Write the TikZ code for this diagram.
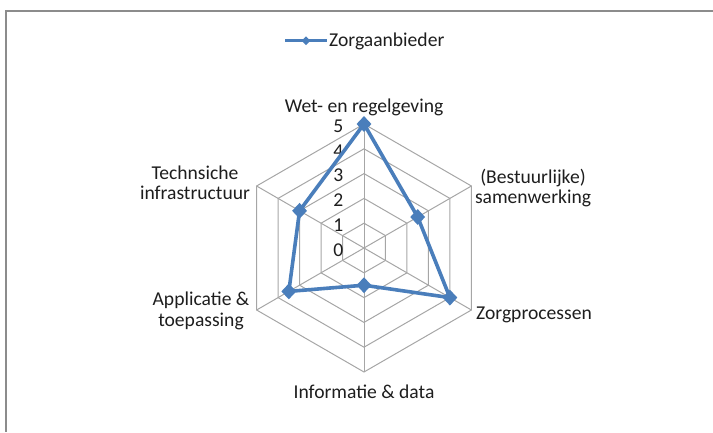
\documentclass[tikz,border=0pt]{standalone}
\usepackage{fontspec}
\setmainfont{Carlito}
\usetikzlibrary{shapes.geometric}
\definecolor{series}{HTML}{4A7EBB}
\definecolor{gridc}{HTML}{A6A6A6}
\definecolor{framec}{HTML}{8C8C8C}
\definecolor{txt}{HTML}{1E1E1E}
\begin{document}
\begin{tikzpicture}[x=1pt,y=1pt,
  font=\fontsize{19.6}{20.5}\selectfont,
  gridline/.style={draw=gridc, line width=1pt},
  seriesline/.style={draw=series, line width=3.6pt, line join=round},
  marker/.style={diamond, fill=series, minimum width=15pt, minimum height=16pt, inner sep=0pt},
  legmarker/.style={diamond, fill=series, minimum width=9pt, minimum height=9pt, inner sep=0pt},
  catlabel/.style={align=center, text=txt, inner sep=0pt},
  ticklabel/.style={anchor=east, inner sep=0pt, text=txt}]
\useasboundingbox (0,0) rectangle (713,-432);
% frame
\draw[framec, line width=2pt] (713,-10.5) -- (5.5,-10.5) -- (5.5,-432);
% legend
\coordinate (la) at (285,-40.7);
\coordinate (lb) at (326.7,-40.7);
\draw[draw=series, line width=3.2pt] (la) -- (lb);
\node[legmarker] (lm) at (306,-40.7) {};
\node[anchor=base west, inner sep=0pt, text=txt] (legtext) at (329,-46.7) {Zorgaanbieder};
% radar
\begin{scope}[shift={(364,-248)}]
\coordinate (c) at (0,0);
\foreach \k in {1,...,5}{
  \pgfmathsetmacro\r{\k*24.8}
  \draw[gridline] (90:\r pt) -- (30:\r pt) -- (-30:\r pt) -- (-90:\r pt) -- (-150:\r pt) -- (150:\r pt) -- cycle;
}
\foreach \a in {90,30,-30,-90,-150,150}{
  \draw[gridline] (c) -- (\a:124pt);
}
\foreach \k in {0,...,5}{
  \node[ticklabel] (t\k) at (-20.5,\k*24.8-2) {\k};
}
\coordinate (d1) at (90:124pt);
\coordinate (d2) at (30:62pt);
\coordinate (d3) at (-30:99.2pt);
\coordinate (d4) at (-90:37.2pt);
\coordinate (d5) at (-150:86.8pt);
\coordinate (d6) at (150:74.4pt);
\draw[seriesline] (d1) -- (d2) -- (d3) -- (d4) -- (d5) -- (d6) -- cycle;
\foreach \i in {1,...,6}{
  \node[marker] (m\i) at (d\i) {};
}
\end{scope}
% category labels
\node[catlabel, anchor=base] (wet) at (364,-112) {Wet- en regelgeving};
\node[catlabel] (best) at (533,-188) {(Bestuurlijke)\\samenwerking};
\node[catlabel, anchor=base] (zorg) at (534,-319) {Zorgprocessen};
\node[catlabel, anchor=base] (info) at (364,-398) {Informatie \& data};
\node[catlabel] (appl) at (201,-311) {Applicatie \&\\toepassing};
\node[catlabel] (tech) at (195,-183) {Technsiche\\infrastructuur};
\end{tikzpicture}
\end{document}
